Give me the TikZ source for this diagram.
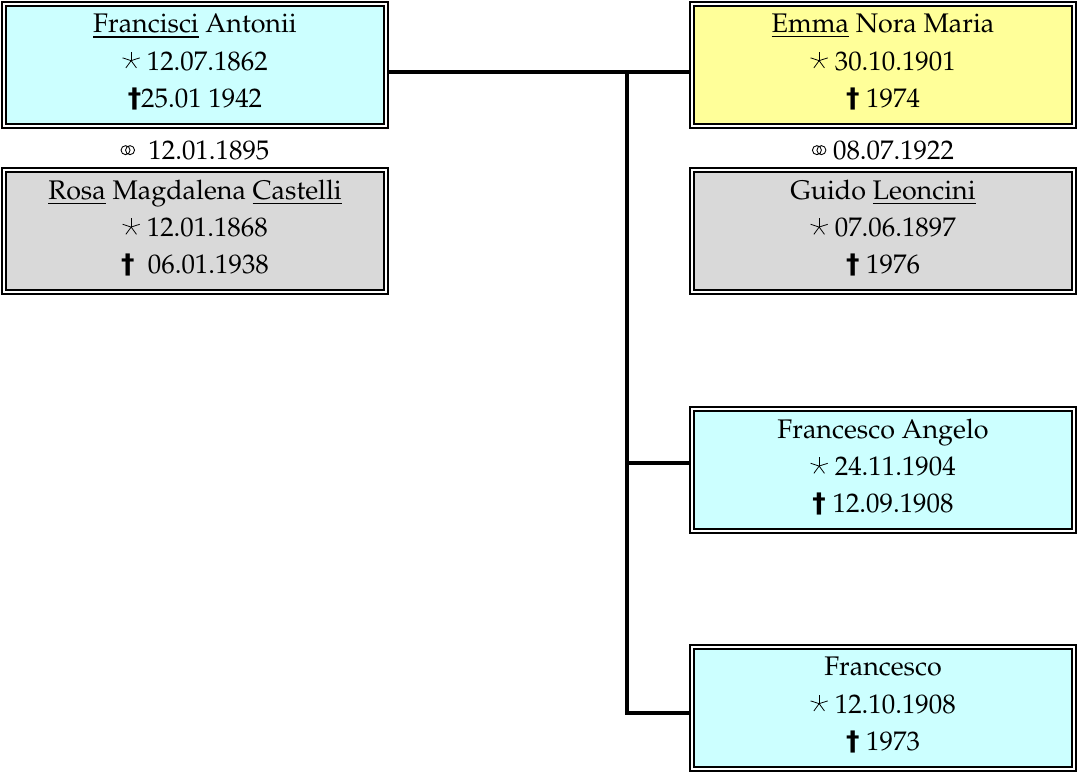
\documentclass[tikz,border=0pt]{standalone}
\usepackage{fontspec}
\usepackage[T1]{fontenc}
\usepackage{mathpazo}
\usepackage{xcolor}
\newfontfamily\symfont{DejaVu Sans}
\definecolor{paleblue}{RGB}{204,255,255}
\definecolor{paleyellow}{RGB}{255,255,153}
\definecolor{palegrey}{RGB}{217,217,217}
\newcommand{\bornsym}{\tikz[baseline={-0.35em},x=1cm,y=1cm]{\foreach \ang in {18,90,162,234,306} \draw[line width=0.45pt] (0,0) -- (\ang:0.18);}}
\newcommand{\diedsym}{{\symfont\bfseries †}}
\newcommand{\wedsym}{\tikz[baseline={-0.33em},x=1cm,y=1cm]{\draw[line width=0.5pt] (0,0) circle (0.09) (0.09,0) circle (0.09);}}

\begin{document}
\begin{tikzpicture}[x=0.02cm,y=-0.02cm,
    person/.style={draw,line width=1.2pt,double=white,double distance=0.9pt,
      minimum width=7.65cm,minimum height=2.45cm,align=center,text depth=0.17cm,
      font=\fontsize{15.3}{21.3}\selectfont},
    wedding/.style={font=\fontsize{15.3}{21.3}\selectfont},
    link/.style={line width=2pt}]
        \useasboundingbox (0,0) rectangle (1079,773);

        % parents
        \node[person,fill=paleblue] (francisci) at (195,65)
            {\underline{Francisci} Antonii\\ \bornsym\ 12.07.1862\\ \diedsym25.01 1942};
        \node[wedding] (wed1) at (195,150) {\wedsym\ \ 12.01.1895};
        \node[person,fill=palegrey] (rosa) at (195,231)
            {\underline{Rosa} Magdalena \underline{Castelli}\\ \bornsym\ 12.01.1868\\ \diedsym\ \ 06.01.1938};

        % daughter and husband
        \node[person,fill=paleyellow] (emma) at (883,65)
            {\underline{Emma} Nora Maria\\ \bornsym\ 30.10.1901\\ \diedsym\ 1974};
        \node[wedding] (wed2) at (883,150) {\wedsym\ 08.07.1922};
        \node[person,fill=palegrey] (guido) at (883,231)
            {Guido \underline{Leoncini}\\ \bornsym\ 07.06.1897\\ \diedsym\ 1976};

        % sons
        \node[person,fill=paleblue] (angelo) at (883,470)
            {Francesco Angelo\\ \bornsym\ 24.11.1904\\ \diedsym\ 12.09.1908};
        \node[person,fill=paleblue] (francesco) at (883,708)
            {Francesco\\ \bornsym\ 12.10.1908\\ \diedsym\ 1973};

        % lines
        \coordinate (fork) at (627,72);
        \draw[link] (francisci.east |- fork) -- (emma.west |- fork);
        \draw[link] (fork) |- ([yshift=-2.8pt]francesco.west);
        \draw[link] ([yshift=4pt]fork |- angelo.west) -- ([yshift=4pt]angelo.west);
    \end{tikzpicture}
\end{document}
